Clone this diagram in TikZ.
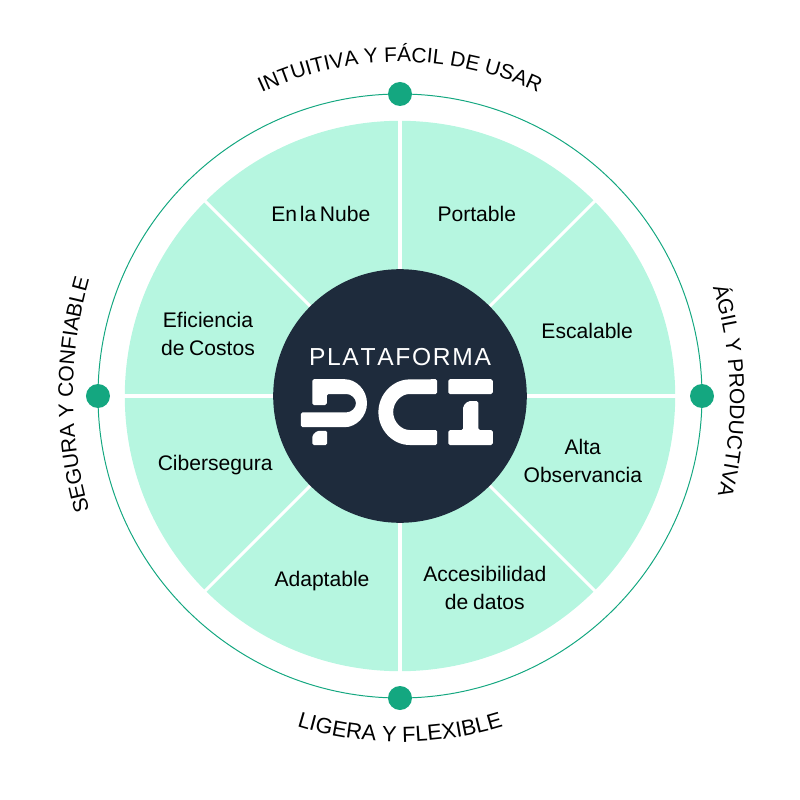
\documentclass[tikz,border=0pt]{standalone}
\usepackage{fontspec}
\setmainfont[WordSpace=0.8]{Liberation Sans}
\newfontfamily\ringfont{Liberation Sans}
\usetikzlibrary{decorations.text}
\definecolor{slicegreen}{RGB}{182,246,224}
\definecolor{ringgreen}{RGB}{20,167,128}
\definecolor{hubnavy}{RGB}{30,43,60}
\tikzset{
  slicelabel/.style={font=\fontsize{15}{19.6}\selectfont, align=center, text=black},
  ringdot/.style={circle, fill=ringgreen, inner sep=0pt, minimum size=0.6cm},
  logopart/.style={fill=white, rounded corners=0.04cm},
  ringtext/.style 2 args={decorate, decoration={text along path, text align=center,
    text={|\ringfont\fontsize{#1}{18}\selectfont|#2}}}
}
\begin{document}
\begin{tikzpicture}
\useasboundingbox (-10,-10.1) rectangle (10,9.9);

% Ring and slices
\draw[ringgreen, line width=0.7pt] (0,0) circle (7.55);
\fill[slicegreen] (0,0) circle (6.88);
\foreach \ang in {0,45,...,315}
  \draw[white, line width=2.2pt] (0,0) -- (\ang:6.95);

% Hub
\node[circle, fill=hubnavy, inner sep=0pt, minimum size=6.34cm] (hub) at (0,0) {};
\node[text=white, font=\ringfont\fontsize{17.5}{22}\selectfont] (title) at (0,0.975) {P\kern1.2pt L\kern1.2pt A\kern1.2pt T\kern1.2pt A\kern1.2pt F\kern1.2pt O\kern1.2pt R\kern1.2pt M\kern1.2pt A};

% Logo
\fill[logopart] (-2.19,0.42) -- (-2.19,-0.225) -- (-1.83,-0.225) -- (-1.83,0.05) -- (-1.38,0.05) arc (90:-90:0.28 and 0.23) -- (-2.475,-0.41) -- (-2.475,-0.78) -- (-1.425,-0.78) arc (-90:90:0.6) -- cycle;
\fill[logopart] (-2.07,-0.87) -- (-1.82,-0.87) -- (-1.82,-1.225) -- (-2.19,-1.225) -- (-2.19,-0.98) -- cycle;
\fill[logopart] (0.93,0.42) -- (0.93,0.05) -- (0.28,0.05) arc (90:270:0.45) -- (0.93,-0.85) -- (0.93,-1.225) -- (0.28,-1.225) arc (270:90:0.82) -- cycle;
\fill[logopart] (1.21,0.42) rectangle (2.32,0.05);
\fill[logopart] (1.7,-0.13) -- (1.96,-0.13) -- (1.96,-0.85) -- (2.32,-0.85) -- (2.32,-1.225) -- (1.21,-1.225) -- (1.21,-0.85) -- (1.58,-0.85) -- (1.58,-0.25) -- cycle;

% Slice labels
\node[slicelabel] (portable) at (1.92,4.56) {Portable};
\node[slicelabel] (escalable) at (4.68,1.62) {Escalable};
\node[slicelabel] (alta) at (4.57,-1.63) {Alta\\Observancia};
\node[slicelabel] (accesibilidad) at (2.12,-4.8) {Accesibilidad\\de datos};
\node[slicelabel] (adaptable) at (-1.95,-4.62) {Adaptable};
\node[slicelabel] (cibersegura) at (-4.62,-1.72) {Cibersegura};
\node[slicelabel] (eficiencia) at (-4.8,1.55) {Eficiencia\\de Costos};
\node[slicelabel] (nube) at (-1.98,4.56) {En\kern2pt la\kern2.5pt Nube};

% Dots
\node[ringdot] (dottop) at (0,7.55) {};
\node[ringdot] (dotright) at (7.55,0) {};
\node[ringdot] (dotbottom) at (0,-7.55) {};
\node[ringdot] (dotleft) at (-7.55,0) {};

% Curved labels
\path[ringtext={14.9}{INTUITIVA Y FÁCIL DE USAR}, shift={(0,0.175)}] (150:8.175) arc (150:30:8.175);
\path[ringtext={14.9}{ÁGIL Y PRODUCTIVA}, shift={(-1.225,-0.1)}] (26.35:9.475) arc (26.35:-23.65:9.475);
\path[ringtext={15.6}{LIGERA Y FLEXIBLE}] (-130:8.65) arc (-130:-50:8.65);
\path[ringtext={15}{SEGURA Y CONFIABLE}, shift={(2.275,0.025)}] (205:10.45) arc (205:155:10.45);
\end{tikzpicture}
\end{document}
